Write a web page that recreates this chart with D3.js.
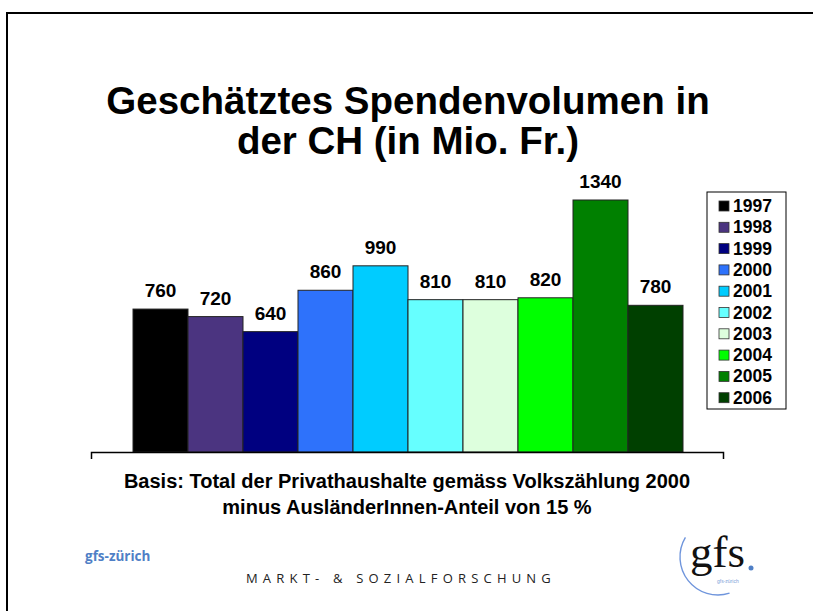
<!DOCTYPE html>
<html>
<head>
<meta charset="utf-8">
<script src="https://cdn.jsdelivr.net/npm/d3@7"></script>
<style>
body { margin:0; background:#fff; }
svg { display:block; font-family:"Liberation Sans", Arial, sans-serif; }
</style>
</head>
<body>
<div id="chart"></div>
<script>
// data
var years = ["1997","1998","1999","2000","2001","2002","2003","2004","2005","2006"];
var values = [760, 720, 640, 860, 990, 810, 810, 820, 1340, 780];
var colors = ["#000000","#4b3480","#000080","#2e72fb","#00ccff","#66ffff","#ddffdd","#00ff00","#008000","#004000"];
var titleLines = ["Geschätztes Spendenvolumen in", "der CH (in Mio. Fr.)"];
var noteLines = ["Basis: Total der Privathaushalte gemäss Volkszählung 2000", "minus AusländerInnen-Anteil von 15 %"];

var W = 813, H = 611;
var svg = d3.select("#chart").append("svg")
	.attr("width", W)
	.attr("height", H);

// slide frame
svg.append("path")
	.attr("d", "M7," + H + "V13H" + W)
	.attr("fill", "none")
	.attr("stroke", "#000")
	.attr("stroke-width", 2);

svg.selectAll("text.title")
	.data(titleLines)
  .enter().append("text")
	.attr("class", "title")
	.attr("x", 408)
	.attr("y", function(d, i){ return 114 + i * 40; })
	.attr("text-anchor", "middle")
	.attr("font-size", 38.5)
	.attr("font-weight", "bold")
	.text(function(d){ return d; });

var base = 452;
var y = d3.scaleLinear().domain([0, 1340]).range([base, 200]);
var outer = d3.scaleBand().domain([""]).range([91, 723]);
var x = d3.scaleBand().domain(years).range([133, 683]).padding(0);

svg.selectAll("rect.bar")
	.data(values)
  .enter().append("rect")
	.attr("class", "bar")
	.attr("x", function(d, i){ return x(years[i]); })
	.attr("y", function(d){ return y(d); })
	.attr("width", x.bandwidth())
	.attr("height", function(d){ return base - y(d); })
	.attr("fill", function(d, i){ return colors[i]; })
	.attr("stroke", "#222")
	.attr("stroke-width", 1);

svg.selectAll("text.lbl")
	.data(values)
  .enter().append("text")
	.attr("class", "lbl")
	.attr("x", function(d, i){ return x(years[i]) + x.bandwidth() / 2; })
	.attr("y", function(d){ return y(d) - 12; })
	.attr("text-anchor", "middle")
	.attr("font-size", 19)
	.attr("font-weight", "bold")
	.text(function(d){ return d; });

var axis = svg.append("g")
	.attr("transform", "translate(0," + base + ")")
	.call(d3.axisBottom(outer).tickSizeInner(0).tickSizeOuter(7).tickFormat(""));
axis.select(".domain").attr("stroke", "#000").attr("stroke-width", 1.5);

// legend
var lg = svg.append("g").attr("transform", "translate(707,192)");
lg.append("rect")
	.attr("width", 79).attr("height", 217)
	.attr("fill", "#fff").attr("stroke", "#000").attr("stroke-width", 1);
var item = lg.selectAll("g.item")
	.data(years)
  .enter().append("g")
	.attr("class", "item")
	.attr("transform", function(d, i){ return "translate(0," + (14 + i * 21.3) + ")"; });
item.append("rect")
	.attr("x", 12).attr("y", -5)
	.attr("width", 10).attr("height", 10)
	.attr("fill", function(d, i){ return colors[i]; })
	.attr("stroke", "#333").attr("stroke-width", 0.8);
item.append("text")
	.attr("x", 26).attr("y", 6)
	.attr("font-size", 17.5)
	.attr("font-weight", "bold")
	.text(function(d){ return d; });

svg.selectAll("text.note")
	.data(noteLines)
  .enter().append("text")
	.attr("class", "note")
	.attr("x", 407)
	.attr("y", function(d, i){ return 488 + i * 26; })
	.attr("text-anchor", "middle")
	.attr("font-size", 20)
	.attr("font-weight", "bold")
	.text(function(d){ return d; });

// footer
svg.append("text")
	.attr("x", 85).attr("y", 561)
	.attr("font-family", "'Open Sans', sans-serif")
	.attr("font-size", 13.5)
	.attr("font-weight", "bold")
	.attr("fill", "#4f7fc6")
	.text("gfs-zürich");

svg.append("text")
	.attr("x", 401).attr("y", 583)
	.attr("text-anchor", "middle")
	.attr("font-family", "'Open Sans', sans-serif")
	.attr("font-size", 13)
	.attr("letter-spacing", 5.2)
	.attr("fill", "#222")
	.text("MARKT- & SOZIALFORSCHUNG");

// logo
var logo = svg.append("g").attr("transform", "translate(718,557)");
logo.append("path")
	.attr("d", d3.arc()({innerRadius: 38, outerRadius: 38, startAngle: -1.03, endAngle: -3.45}))
	.attr("fill", "none")
	.attr("stroke", "#6f95dc")
	.attr("stroke-width", 1.4);
logo.append("text")
	.attr("x", -28).attr("y", 10)
	.attr("font-family", "'Liberation Serif', serif")
	.attr("font-size", 45)
	.attr("fill", "#111")
	.text("gfs");
logo.append("circle")
	.attr("cx", 33).attr("cy", 11).attr("r", 2.5)
	.attr("fill", "#4f7fc6");
logo.append("text")
	.attr("x", -1).attr("y", 26)
	.attr("font-size", 5)
	.attr("fill", "#7ea0d8")
	.text("gfs-zürich");
</script>
</body>
</html>
